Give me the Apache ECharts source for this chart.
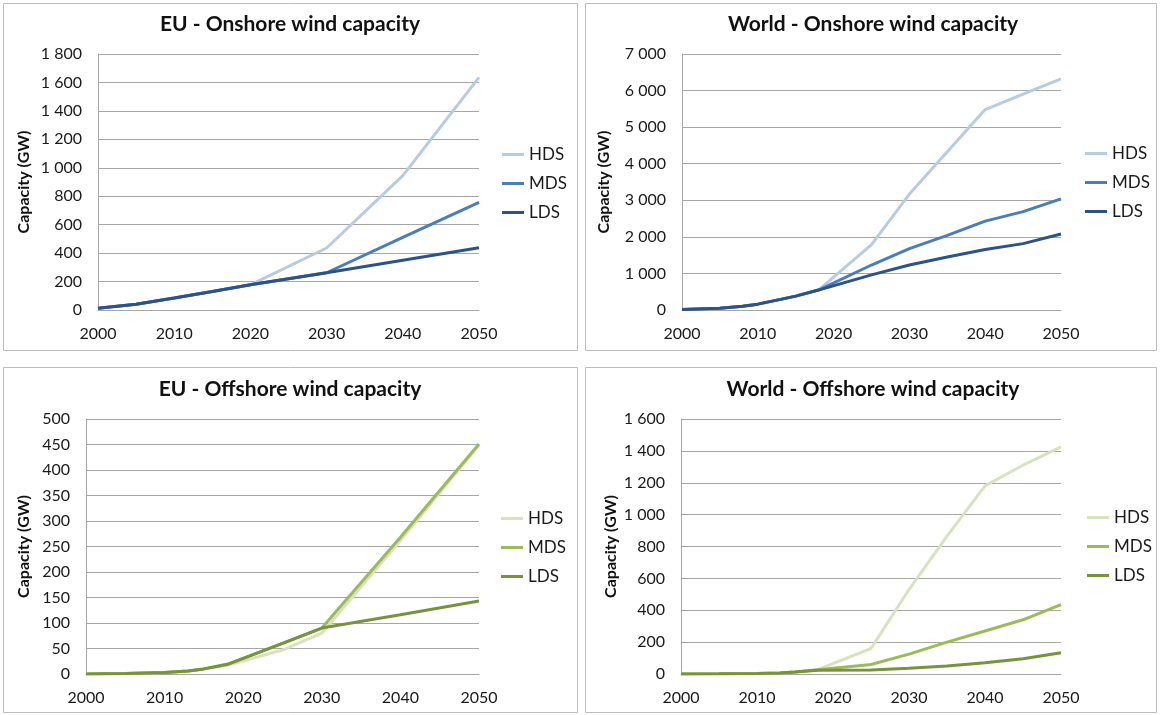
<!DOCTYPE html>
<html>
<head>
<meta charset="utf-8">
<script src="https://cdn.jsdelivr.net/npm/echarts@6/dist/echarts.min.js"></script>
<style>
  html, body { margin: 0; padding: 0; background: #fff; }
  #chart { width: 1160px; height: 715px; }
</style>
</head>
<body>
<div id="chart"></div>
<script>
// legend / scenario names
const scenarios = ['HDS', 'MDS', 'LDS']

// EU - onshore (GW)
const euOnYears = [2000, 2005, 2010, 2015, 2020, 2030, 2040, 2050]
const euOnHDS = [13, 41, 85, 130, 177, 436, 945, 1636]
const euOnMDS = [13, 41, 85, 130, 177, 262, 510, 757]
const euOnLDS = [13, 41, 85, 130, 177, 262, 350, 438]

// World - onshore (GW)
const wOnYears = [2000, 2005, 2008, 2010, 2013, 2015, 2018, 2025, 2030, 2035, 2040, 2045, 2050]
const wOnHDS = [17, 46, 105, 160, 290, 380, 545, 1790, 3170, 4330, 5480, 5900, 6320]
const wOnMDS = [17, 46, 105, 160, 290, 380, 545, 1230, 1680, 2040, 2430, 2690, 3040]
const wOnLDS = [17, 46, 105, 160, 290, 380, 545, 960, 1230, 1450, 1655, 1815, 2080]

// EU - offshore (GW)
const euOffYears = [2000, 2005, 2010, 2013, 2015, 2018, 2025, 2030, 2040, 2050]
const euOffHDS = [0, 1, 3, 6, 10, 17, 47, 80, 262, 449]
const euOffMDS = [0, 1, 3, 6, 10, 19, 60, 90, 268, 451]
const euOffLDS = [0, 1, 3, 6, 10, 19, 60, 90, 116, 143]

// World - offshore (GW)
const wOffYears = [2000, 2005, 2010, 2013, 2015, 2018, 2025, 2030, 2035, 2040, 2045, 2050]
const wOffHDS = [0, 1, 3, 7, 12, 27, 160, 530, 865, 1180, 1310, 1425]
const wOffMDS = [0, 1, 3, 7, 12, 26, 60, 125, 200, 270, 340, 435]
const wOffLDS = [0, 1, 3, 7, 12, 24, 25, 36, 50, 71, 96, 134]

const xTicks = [2000, 2010, 2020, 2030, 2040, 2050]

const blues = ['#b7cbe3', '#4a7ebb', '#2d5288']
const greens = ['#d6e3bc', '#9bbb59', '#77933c']

const FONT = 'Lato, "Open Sans", sans-serif'

function zip(xs, ys) {
  return xs.map((x, i) => [x, ys[i]])
}

function spaced(v) {
  return String(v).replace(/\B(?=(\d{3})+(?!\d))/g, ' ')
}

// one panel per entry: title, grid box, y scale, legend spot, data
const panels = [
  {
    title: 'EU - Onshore wind capacity', cx: 290, ty: 14,
    grid: { left: 98, top: 54, width: 381, height: 256 }, nameGap: 66,
    yMax: 1800, yStep: 200, legend: { left: 502, top: 146 },
    colors: blues, years: euOnYears, values: [euOnHDS, euOnMDS, euOnLDS]
  },
  {
    title: 'World - Onshore wind capacity', cx: 873, ty: 14,
    grid: { left: 682, top: 54, width: 379, height: 256 }, nameGap: 70,
    yMax: 7000, yStep: 1000, legend: { left: 1085, top: 145 },
    colors: blues, years: wOnYears, values: [wOnHDS, wOnMDS, wOnLDS]
  },
  {
    title: 'EU - Offshore wind capacity', cx: 290, ty: 379,
    grid: { left: 86, top: 419, width: 393, height: 255 }, nameGap: 54,
    yMax: 500, yStep: 50, legend: { left: 501, top: 510 },
    colors: greens, years: euOffYears, values: [euOffHDS, euOffMDS, euOffLDS]
  },
  {
    title: 'World - Offshore wind capacity', cx: 873, ty: 379,
    grid: { left: 681, top: 419, width: 380, height: 255 }, nameGap: 62,
    yMax: 1600, yStep: 200, legend: { left: 1087, top: 509 },
    colors: greens, years: wOffYears, values: [wOffHDS, wOffMDS, wOffLDS]
  }
]

const chart = echarts.init(document.getElementById('chart'))

const option = {
  backgroundColor: '#fff',
  animation: false,
  textStyle: { fontFamily: FONT },
  graphic: [
    { type: 'rect', shape: { x: 3.5, y: 3.5, width: 574, height: 347 }, style: { fill: 'none', stroke: '#bdbdbd', lineWidth: 1 } },
    { type: 'rect', shape: { x: 585.5, y: 3.5, width: 571, height: 347 }, style: { fill: 'none', stroke: '#bdbdbd', lineWidth: 1 } },
    { type: 'rect', shape: { x: 3.5, y: 367.5, width: 574, height: 345 }, style: { fill: 'none', stroke: '#bdbdbd', lineWidth: 1 } },
    { type: 'rect', shape: { x: 585.5, y: 367.5, width: 571, height: 345 }, style: { fill: 'none', stroke: '#bdbdbd', lineWidth: 1 } }
  ],
  title: [],
  legend: [],
  grid: [],
  xAxis: [],
  yAxis: [],
  series: []
}

panels.forEach((p, i) => {
  option.title.push({
    text: p.title,
    left: p.cx,
    top: p.ty,
    padding: 0,
    textAlign: 'center',
    textStyle: { fontFamily: FONT, fontSize: 21, fontWeight: 'bold', color: '#111' }
  })

  option.grid.push(Object.assign({ containLabel: false }, p.grid))

  option.xAxis.push({
    type: 'value',
    gridIndex: i,
    min: xTicks[0],
    max: xTicks[xTicks.length - 1],
    interval: 10,
    axisLine: { show: true, lineStyle: { color: '#a6a6a6', width: 1 } },
    axisTick: { show: false },
    splitLine: { show: false },
    axisLabel: { margin: 16, fontSize: 16, color: '#1a1a1a', fontFamily: FONT, formatter: v => String(v) }
  })

  option.yAxis.push({
    type: 'value',
    gridIndex: i,
    min: 0,
    max: p.yMax,
    interval: p.yStep,
    name: 'Capacity (GW)',
    nameLocation: 'middle',
    nameGap: p.nameGap,
    nameTextStyle: { fontFamily: FONT, fontSize: 16, fontWeight: 'bold', color: '#111' },
    axisLine: { show: true, lineStyle: { color: '#a6a6a6', width: 1 } },
    axisTick: { show: false },
    splitLine: { show: true, lineStyle: { color: '#a6a6a6', width: 1 } },
    axisLabel: { margin: 16, fontSize: 16, color: '#1a1a1a', fontFamily: FONT, formatter: spaced }
  })

  option.legend.push({
    orient: 'vertical',
    left: p.legend.left,
    top: p.legend.top,
    padding: 0,
    itemGap: 12,
    itemWidth: 22,
    itemHeight: 3,
    icon: 'rect',
    selectedMode: false,
    textStyle: { fontFamily: FONT, fontSize: 17, color: '#1a1a1a', lineHeight: 16 },
    data: scenarios.map((s, k) => ({ name: s, itemStyle: { color: p.colors[k] }, lineStyle: { color: p.colors[k] } }))
  })

  scenarios.forEach((s, k) => {
    option.series.push({
      type: 'line',
      name: s,
      xAxisIndex: i,
      yAxisIndex: i,
      showSymbol: false,
      symbol: 'none',
      lineStyle: { color: p.colors[k], width: 3 },
      itemStyle: { color: p.colors[k] },
      data: zip(p.years, p.values[k])
    })
  })
})

chart.setOption(option)
</script>
</body>
</html>
